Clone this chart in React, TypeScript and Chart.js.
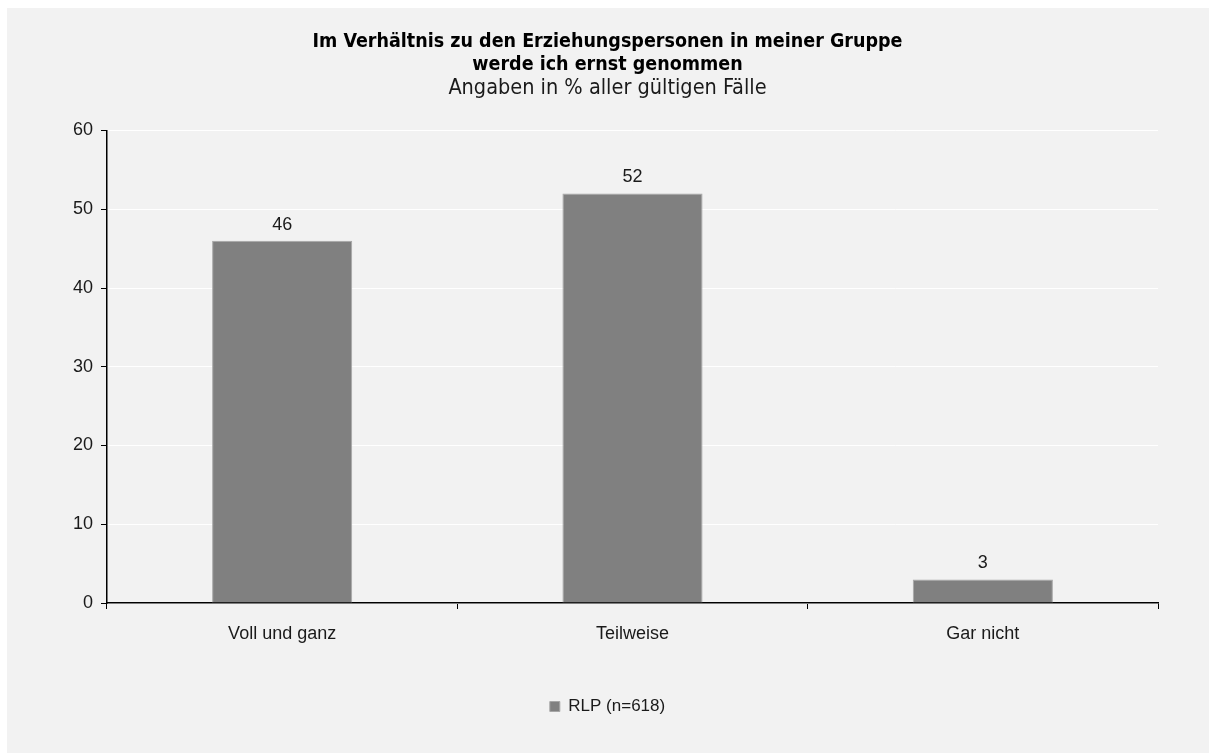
import React, { useEffect, useRef } from "react";
import { Chart, registerables } from "chart.js";

Chart.register(...registerables);

const categories = ["Voll und ganz", "Teilweise", "Gar nicht"];
const values = [46, 52, 3];
const seriesLabel = "RLP (n=618)";
const titleLines = ["Im Verhältnis zu den Erziehungspersonen in meiner Gruppe", "werde ich ernst genommen"];
const subtitleText = "Angaben in % aller gültigen Fälle";

const FONT = "'Liberation Sans', Arial, sans-serif";
const TITLE_FONT = "'DejaVu Sans Condensed', 'DejaVu Sans', sans-serif";

const valueLabels = {
  id: "valueLabels",
  afterDatasetsDraw(chart: any) {
    const ctx = chart.ctx;
    const meta = chart.getDatasetMeta(0);
    ctx.save();
    ctx.font = `18px ${FONT}`;
    ctx.fillStyle = "#1a1a1a";
    ctx.textAlign = "center";
    ctx.textBaseline = "bottom";
    meta.data.forEach((bar: any, i: number) => {
      ctx.fillText(String(values[i]), bar.x, bar.y - 7);
    });
    ctx.restore();
  },
};

export default function App() {
  const ref = useRef<HTMLCanvasElement>(null);
  useEffect(() => {
    if (!ref.current) return;
    const chart = new Chart(ref.current, {
      type: "bar",
      data: {
        labels: categories,
        datasets: [
          {
            label: seriesLabel,
            data: values,
            backgroundColor: "#808080",
            borderColor: "#a6a6a6",
            borderWidth: 1,
            barPercentage: 0.4,
            categoryPercentage: 1,
          },
        ],
      },
      options: {
        responsive: false,
        animation: false,
        layout: { padding: { left: 50, right: 51, top: 10, bottom: 28 } },
        plugins: {
          title: {
            display: true,
            text: titleLines,
            color: "#000",
            font: { family: TITLE_FONT, size: 19.5, weight: "bold", lineHeight: 1.15 },
            padding: { top: 13, bottom: 1 },
          },
          subtitle: {
            display: true,
            text: subtitleText,
            color: "#1a1a1a",
            font: { family: TITLE_FONT, size: 21.5, lineHeight: 1.1 },
            padding: { top: 0, bottom: 30 },
          },
          legend: {
            position: "bottom",
            labels: {
              color: "#1a1a1a",
              font: { family: FONT, size: 17 },
              boxWidth: 10,
              boxHeight: 10,
              padding: 10,
            },
          },
          tooltip: { enabled: false },
        },
        scales: {
          x: {
            afterFit: (scale: any) => {
              scale.height = 85;
            },
            grid: {
              display: true,
              drawOnChartArea: false,
              drawTicks: true,
              tickLength: 6,
              color: "#000",
              offset: true,
            },
            border: { color: "#000", width: 1.5 },
            ticks: { color: "#1a1a1a", font: { family: FONT, size: 18 }, padding: 14 },
          },
          y: {
            afterFit: (scale: any) => {
              scale.width = 50;
            },
            min: 0,
            max: 60,
            grid: { color: "#ffffff", tickLength: 6, tickColor: "#000" },
            border: { color: "#000", width: 1.5 },
            ticks: { stepSize: 10, color: "#1a1a1a", font: { family: FONT, size: 18 }, padding: 8 },
          },
        },
      },
      plugins: [valueLabels],
    });
    return () => chart.destroy();
  }, []);
  return (
    <div style={{ position: "absolute", left: 7, top: 8, width: 1202, height: 745, background: "#f2f2f2" }}>
      <canvas ref={ref} width={1202} height={745} />
    </div>
  );
}
